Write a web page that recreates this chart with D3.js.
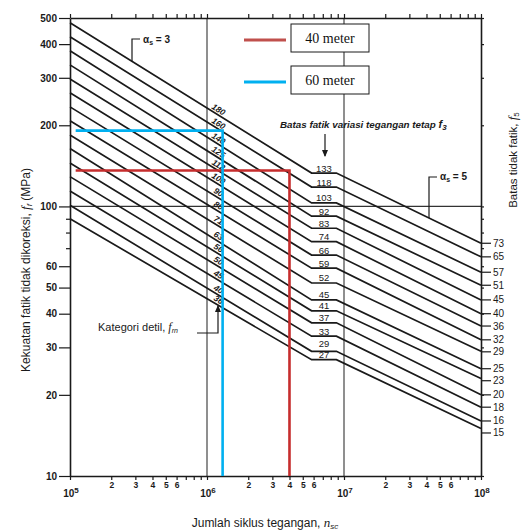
<!DOCTYPE html>
<html><head><meta charset="utf-8">
<script src="https://cdn.jsdelivr.net/npm/d3@7"></script>
<style>body{margin:0;background:#fff} svg{display:block;font-family:"Liberation Sans",Arial,sans-serif}</style>
</head><body><svg id="c" width="521" height="532"></svg>
<script>
// ---- data ----
const categories  = [180,160,140,125,112,100,90,80,71,63,56,50,45,40,36];      // detail category f_rn
const startValues = [480,426,378,335,297,264,234,208,184,164,145,129,114,101,90]; // stress at 1e5 cycles
const f3Values    = [133,118,103,92,83,74,66,59,52,45,41,37,33,29,27];           // constant amplitude limit
const f5Values    = [73,65,57,51,45,40,36,32,29,25,23,20,18,16,15];              // cut-off limit at 1e8
const startCycles = 1e5, endCycles = 1e8;
const kneeCycles  = [5.8e6, 8.8e6];
const yTicksLabeled = [500,400,300,200,100,60,50,40,30,20,10];
const yTicksMinor   = [90,80,70];
const xDecades      = [1e5,1e6,1e7,1e8];
const xDecadeExp    = ["5","6","7","8"];
const xDigits       = [2,3,4,5,6,7,8,9];
const xDigitsLabeled= [2,3,4,5,6];
const gridCycles    = [1e6,1e7];
const gridStress    = [100];
const legendNames   = ["40 meter","60 meter"];
const caseStress    = [136,191];
const caseCycles    = [4.0e6,1.3e6];
const caseStartCycles = 1.1e5;

// ---- scales ----
const svg = d3.select("#c");
const x = d3.scaleLog().domain([1e5,1e8]).range([70,481]);
const y = d3.scaleLog().domain([10,500]).range([476,18]);
const ink = "#1a1a1a";

const defs = svg.append("defs");
defs.append("marker").attr("id","arr").attr("viewBox","0 0 8 8").attr("refX",7).attr("refY",4)
  .attr("markerWidth",6).attr("markerHeight",6).attr("orient","auto")
  .append("path").attr("d","M0,0.5 L8,4 L0,7.5 z").attr("fill",ink);

// ---- gridlines ----
svg.selectAll("line.vg").data(gridCycles).join("line").attr("class","vg")
  .attr("x1",d=>x(d)).attr("x2",d=>x(d)).attr("y1",y(500)).attr("y2",y(10))
  .attr("stroke","#333").attr("stroke-width",1.1);
svg.selectAll("line.hg").data(gridStress).join("line").attr("class","hg")
  .attr("x1",x(1e5)).attr("x2",x(1e8)).attr("y1",d=>y(d)).attr("y2",d=>y(d))
  .attr("stroke","#333").attr("stroke-width",1.1);

// ---- axes ----
const xMinor = [];
xDecades.slice(0,3).forEach(dec=>xDigits.forEach(k=>xMinor.push(k*dec)));

function styleAxis(g){ g.selectAll("path.domain").attr("stroke",ink).attr("stroke-width",1.6);
  g.selectAll(".tick line").attr("stroke",ink).attr("stroke-width",1.2); }

// left
const gl = svg.append("g").attr("transform",`translate(${x(1e5)},0)`)
  .call(d3.axisLeft(y).tickValues(yTicksLabeled).tickFormat(d3.format("d")).tickSize(11).tickPadding(2).tickSizeOuter(0));
styleAxis(gl);
gl.selectAll("text").attr("font-size",10).attr("font-weight","bold").attr("fill",ink);
const glm = svg.append("g").attr("transform",`translate(${x(1e5)},0)`)
  .call(d3.axisLeft(y).tickValues(yTicksMinor).tickFormat("").tickSize(4).tickSizeOuter(0));
glm.select("path.domain").remove(); styleAxis(glm);

// right (border + small ticks)
const gr = svg.append("g").attr("transform",`translate(${x(1e8)},0)`)
  .call(d3.axisRight(y).tickValues(y.ticks()).tickFormat("").tickSize(3).tickSizeOuter(0));
styleAxis(gr);

// top (border + small ticks)
const gt = svg.append("g").attr("transform",`translate(0,${y(500)})`)
  .call(d3.axisTop(x).tickValues(xMinor.concat(xDecades)).tickFormat("").tickSize(4).tickSizeOuter(0));
styleAxis(gt);

// bottom
const gb = svg.append("g").attr("transform",`translate(0,${y(10)})`)
  .call(d3.axisBottom(x).tickValues(xMinor.concat(xDecades))
    .tickFormat(d=>{const k=Math.round(d/Math.pow(10,Math.floor(Math.log10(d)+1e-9))); return (xDecades.includes(d)||!xDigitsLabeled.includes(k))?"":k;})
    .tickSize(4).tickPadding(2).tickSizeOuter(0));
styleAxis(gb);
gb.selectAll("text").attr("font-size",8.5).attr("font-weight","bold").attr("fill",ink);
const dl = svg.append("g").selectAll("text").data(xDecades).join("text")
  .attr("x",d=>x(d)+1).attr("y",497).attr("text-anchor","middle")
  .attr("font-size",10).attr("font-weight","bold").attr("fill",ink);
dl.append("tspan").text("10");
dl.append("tspan").attr("dy",-4).attr("font-size",8).text((d,i)=>xDecadeExp[i]);

// ---- S-N curves ----
const curves = categories.map((c,i)=>[[startCycles,startValues[i]],[kneeCycles[0],f3Values[i]],[kneeCycles[1],f3Values[i]],[endCycles,f5Values[i]]]);
const line = d3.line().x(d=>x(d[0])).y(d=>y(d[1]));
svg.append("g").selectAll("path").data(curves).join("path")
  .attr("d",line).attr("fill","none").attr("stroke",ink).attr("stroke-width",1.7);

function curveYAt(i,px){
  const pts = curves[i].map(d=>[x(d[0]),y(d[1])]);
  for(let k=0;k<pts.length-1;k++){
    if(px>=pts[k][0] && px<=pts[k+1][0]){
      const t=(px-pts[k][0])/(pts[k+1][0]-pts[k][0]);
      return pts[k][1]+t*(pts[k+1][1]-pts[k][1]);
    }
  }
  return pts[pts.length-1][1];
}

// category labels along first segment
const labelX = 216;
categories.forEach((c,i)=>{
  const p0=[x(startCycles),y(startValues[i])], p1=[x(kneeCycles[0]),y(f3Values[i])];
  const ang=Math.atan2(p1[1]-p0[1],p1[0]-p0[0])*180/Math.PI;
  svg.append("text").attr("transform",`translate(${labelX},${curveYAt(i,labelX)}) rotate(${ang})`)
    .attr("dy",-2).attr("text-anchor","middle").attr("font-size",8.5).attr("font-style","italic")
    .attr("font-weight","bold").attr("fill",ink).text(c);
});

// f3 labels above the plateau (nudged upward from the bottom to keep them apart)
const f3Y = f3Values.map(v=>y(v)-1.5);
for(let i=f3Y.length-2;i>=0;i--){ if(f3Y[i]>f3Y[i+1]-11) f3Y[i]=f3Y[i+1]-11; }
f3Values.forEach((v,i)=>{
  svg.append("text").attr("x",(x(kneeCycles[0])+x(kneeCycles[1]))/2).attr("y",f3Y[i])
    .attr("text-anchor","middle").attr("font-size",9.5).attr("fill",ink).text(v);
});

// f5 labels at right
let prev=-Infinity;
const ry = f5Values.map(v=>{let yy=y(v); if(yy<prev+12) yy=prev+12; prev=yy; return yy;});
f5Values.forEach((v,i)=>{
  svg.append("line").attr("x1",x(1e8)+1).attr("x2",x(1e8)+10).attr("y1",ry[i]).attr("y2",ry[i])
    .attr("stroke",ink).attr("stroke-width",1.2);
  svg.append("text").attr("x",x(1e8)+12).attr("y",ry[i]).attr("dy","0.35em")
    .attr("font-size",10).attr("fill",ink).text(v);
});

// ---- annotations ----
const a3x = 132;
svg.append("path").attr("d",`M140,39 H${a3x} V${curveYAt(0,a3x)}`).attr("fill","none").attr("stroke",ink).attr("stroke-width",1.2);
const t3 = svg.append("text").attr("x",143).attr("y",43).attr("font-size",10).attr("font-weight","bold").attr("fill",ink);
t3.append("tspan").text("α");
t3.append("tspan").attr("dy",2).attr("font-size",7).text("s");
t3.append("tspan").attr("dy",-2).text(" = 3");

const a5x = 429;
svg.append("path").attr("d",`M437,177 H${a5x} V${curveYAt(0,a5x)}`).attr("fill","none").attr("stroke",ink).attr("stroke-width",1.2);
const t5 = svg.append("text").attr("x",440).attr("y",180).attr("font-size",10).attr("font-weight","bold").attr("fill",ink);
t5.append("tspan").text("α");
t5.append("tspan").attr("dy",2).attr("font-size",7).text("s");
t5.append("tspan").attr("dy",-2).text(" = 5");

const tb = svg.append("text").attr("x",280).attr("y",128).attr("font-size",9.8).attr("font-style","italic")
  .attr("font-weight","bold").attr("fill",ink);
tb.append("tspan").text("Batas fatik variasi tegangan tetap ");
tb.append("tspan").attr("font-size",11).text("f");
tb.append("tspan").attr("dy",2).attr("font-size",8).text("3");
svg.append("path").attr("d","M325,134 V156").attr("stroke",ink).attr("stroke-width",1.2).attr("marker-end","url(#arr)");

const tk = svg.append("text").attr("x",98).attr("y",331).attr("font-size",11).attr("fill",ink);
tk.append("tspan").text("Kategori detil, ");
tk.append("tspan").attr("font-style","italic").attr("font-family","Liberation Serif").attr("font-size",12).text("f");
tk.append("tspan").attr("dy",2).attr("font-style","italic").attr("font-size",7).text("rn");
svg.append("path").attr("d","M197,333 H218 V306").attr("fill","none").attr("stroke",ink).attr("stroke-width",1.2).attr("marker-end","url(#arr)");

// ---- case lines ----
const caseColors = ["#c62d2d","#00b0f0"];
caseStress.forEach((s,i)=>{
  svg.append("path").attr("d",`M${x(caseStartCycles)},${y(s)} H${x(caseCycles[i])} V${y(10)}`)
    .attr("fill","none").attr("stroke",caseColors[i]).attr("stroke-width",2.6);
});

// ---- legend ----
const legendColors = ["#c0504d","#00b0f0"];
const legY = [24,66];
legendNames.forEach((n,i)=>{
  svg.append("line").attr("x1",244).attr("x2",286).attr("y1",legY[i]+16).attr("y2",legY[i]+16)
    .attr("stroke",legendColors[i]).attr("stroke-width",3);
  svg.append("rect").attr("x",291).attr("y",legY[i]).attr("width",78).attr("height",28)
    .attr("fill","#fff").attr("stroke",ink).attr("stroke-width",1);
  svg.append("text").attr("x",330).attr("y",legY[i]+14).attr("dy","0.35em").attr("text-anchor","middle")
    .attr("font-family","Liberation Serif").attr("font-size",14).attr("fill","#111").text(n);
});

// ---- axis titles ----
const yt = svg.append("text").attr("transform","translate(30,270) rotate(-90)").attr("text-anchor","middle")
  .attr("font-size",12).attr("fill",ink);
yt.append("tspan").text("Kekuatan fatik tidak dikoreksi, ");
yt.append("tspan").attr("font-style","italic").attr("font-family","Liberation Serif").attr("font-size",13).text("f");
yt.append("tspan").attr("dy",2).attr("font-style","italic").attr("font-size",8).text("f");
yt.append("tspan").attr("dy",-2).text(" (MPa)");

const rt = svg.append("text").attr("transform","translate(517,160) rotate(-90)").attr("text-anchor","middle")
  .attr("font-size",11.5).attr("fill",ink);
rt.append("tspan").text("Batas tidak fatik, ");
rt.append("tspan").attr("font-style","italic").attr("font-family","Liberation Serif").attr("font-size",13).text("f");
rt.append("tspan").attr("dy",2).attr("font-size",8).text("5");

const xt = svg.append("text").attr("x",265).attr("y",527).attr("text-anchor","middle")
  .attr("font-size",12).attr("fill",ink);
xt.append("tspan").text("Jumlah siklus tegangan, ");
xt.append("tspan").attr("font-style","italic").attr("font-family","Liberation Serif").attr("font-size",13).text("n");
xt.append("tspan").attr("dy",2).attr("font-style","italic").attr("font-size",8).text("sc");
</script></body></html>
